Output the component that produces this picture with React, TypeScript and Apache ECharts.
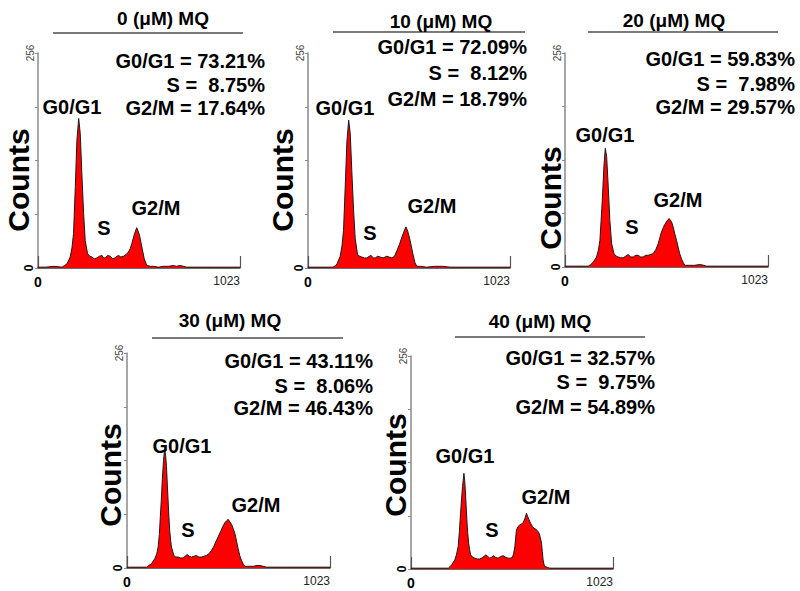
import React, { useEffect, useRef } from "react";
import * as echarts from "echarts";

// ---------- data ----------
const doses = ["0 (μM) MQ", "10 (μM) MQ", "20 (μM) MQ", "30 (μM) MQ", "40 (μM) MQ"];
const g0g1Pct = ["73.21%", "72.09%", "59.83%", "43.11%", "32.57%"];
const sPct = ["8.75%", "8.12%", "7.98%", "8.06%", "9.75%"];
const g2mPct = ["17.64%", "18.79%", "29.57%", "46.43%", "54.89%"];
const xTicks = [0, 1023];
const yTicks = [0, 256];

// [channel, counts]
const hist0 = [[0,1],[40,1],[80,2],[121,1],[135,3],[147,5],[163,13],[172,24],[180,41],[189,97],[197,152],[206,178],[214,160],[222,113],[231,65],[239,33],[251,17],[262,14],[273,13],[285,11],[298,12],[311,14],[324,15],[332,12],[340,12],[353,15],[366,14],[378,11],[391,12],[400,14],[408,15],[420,13],[433,14],[446,16],[458,19],[467,23],[475,29],[489,41],[500,48],[507,44],[514,39],[526,25],[538,11],[551,3],[570,2],[585,2],[610,1],[635,2],[660,2],[686,3],[700,2],[720,3],[753,1],[800,1],[900,1],[1023,1]];
const hist10 = [[0,1],[60,1],[100,1],[127,1],[140,3],[147,5],[163,14],[172,26],[180,45],[189,100],[197,150],[206,176],[214,160],[222,115],[231,68],[239,35],[251,16],[262,14],[273,13],[285,12],[298,12],[310,14],[320,15],[330,12],[340,12],[353,14],[366,13],[380,12],[399,14],[412,13],[425,12],[438,14],[451,21],[463,28],[476,37],[487,44],[496,49],[505,44],[517,33],[530,18],[542,6],[551,2],[570,2],[600,1],[640,2],[680,2],[720,1],[800,1],[1023,1]];
const hist20 = [[0,1],[80,1],[117,1],[130,3],[143,6],[159,12],[168,20],[176,32],[188,80],[196,120],[203,142],[210,132],[218,96],[226,56],[235,28],[247,16],[258,13],[268,12],[280,11],[293,11],[306,13],[319,15],[331,12],[344,12],[356,14],[369,14],[381,12],[394,12],[406,14],[419,14],[432,15],[444,16],[458,21],[470,28],[478,35],[486,42],[495,47],[503,51],[514,55],[525,58],[537,54],[545,48],[553,40],[562,32],[570,24],[578,16],[587,10],[596,5],[604,2],[629,2],[654,2],[679,3],[700,2],[713,1],[800,1],[1023,1]];
const hist30 = [[0,1],[60,1],[98,1],[110,3],[123,5],[140,11],[150,17],[157,25],[163,40],[168,61],[173,82],[178,105],[184,128],[190,142],[195,133],[199,121],[203,100],[207,81],[211,62],[215,45],[220,33],[224,25],[236,15],[246,13],[257,13],[270,12],[283,12],[293,14],[303,16],[314,14],[325,13],[338,14],[350,15],[362,13],[375,13],[388,14],[400,15],[413,17],[426,21],[438,26],[451,33],[461,38],[471,43],[482,49],[493,54],[501,56],[510,58],[518,55],[527,52],[535,47],[544,41],[552,32],[560,23],[568,15],[577,9],[585,5],[594,2],[615,2],[636,2],[655,3],[670,3],[686,2],[703,1],[800,1],[1023,1]];
const hist40 = [[0,1],[100,1],[150,1],[189,1],[198,3],[206,5],[214,8],[222,11],[230,17],[239,27],[245,45],[251,67],[256,84],[261,99],[268,115],[272,106],[275,95],[279,77],[283,59],[287,44],[292,31],[297,23],[302,17],[313,14],[324,13],[336,12],[349,12],[364,14],[379,17],[389,15],[399,13],[408,14],[416,16],[428,14],[441,13],[454,15],[467,16],[480,14],[492,13],[503,13],[514,14],[520,19],[526,27],[530,37],[534,47],[542,51],[551,53],[560,54],[568,56],[576,60],[585,67],[591,63],[598,59],[606,55],[615,51],[623,49],[632,48],[640,46],[649,43],[655,38],[661,31],[665,21],[669,11],[673,6],[677,3],[690,2],[703,1],[736,1],[800,1],[1023,1]];
const histograms = [hist0, hist10, hist20, hist30, hist40];

// ---------- layout (pixels) ----------
const layouts = [
  { grid: [38, 53, 202, 215], title: [163, 18], rule: [53, 243, 33], stats: [265, 61, 85, 108], g1: [72, 107], s: [104, 228], g2: [156, 208], counts: [18, 180] },
  { grid: [308, 53, 202, 215], title: [441, 21], rule: [333, 525, 32], stats: [527, 47, 73, 99], g1: [345, 108], s: [370, 233], g2: [432, 206], counts: [282, 180] },
  { grid: [565, 53, 203, 214], title: [674, 20], rule: [588, 778, 32], stats: [795, 59, 84, 107], g1: [605, 135], s: [632, 227], g2: [678, 200], counts: [550, 198] },
  { grid: [127, 353, 203, 215], title: [230, 320], rule: [152, 343, 338], stats: [373, 361, 386, 408], g1: [182, 446], s: [188, 530], g2: [256, 505], counts: [110, 475] },
  { grid: [411, 356, 202, 213], title: [540, 321], rule: [455, 645, 337], stats: [655, 358, 382, 407], g1: [465, 456], s: [492, 530], g2: [546, 497], counts: [395, 465] },
];

const FONT = '"Liberation Sans", Arial, Helvetica, sans-serif';

function txt(x: number, y: number, text: string, size: number, align = "center", rotation = 0) {
  return {
    type: "text",
    x,
    y,
    rotation,
    z: 10,
    style: {
      text,
      fill: "#000",
      font: `bold ${size}px ${FONT}`,
      align,
      verticalAlign: "middle",
    },
  };
}

export default function App() {
  const ref = useRef<HTMLDivElement>(null);
  useEffect(() => {
    if (!ref.current) return;
    const chart = echarts.init(ref.current, undefined, { renderer: "svg" });
    const grids: any[] = [];
    const xAxes: any[] = [];
    const yAxes: any[] = [];
    const series: any[] = [];
    const graphics: any[] = [];
    layouts.forEach((L, i) => {
      grids.push({ left: L.grid[0], top: L.grid[1], width: L.grid[2], height: L.grid[3], containLabel: false, outerBoundsMode: "none" });
      xAxes.push({
        type: "value",
        gridIndex: i,
        min: xTicks[0],
        max: xTicks[1],
        interval: xTicks[1] - xTicks[0],
        splitLine: { show: false },
        axisLine: { show: true, lineStyle: { color: "#3a3a3a", width: 1.5 } },
        axisTick: { show: true, inside: true, length: 12, lineStyle: { color: "#555", width: 1.2 } },
        axisLabel: {
          margin: 7,
          showMinLabel: true,
          showMaxLabel: true,
          alignMaxLabel: "right",
          formatter: (v: number) => (v === xTicks[0] ? "{z|" + v + "}" : "{n|" + v + "}"),
          rich: {
            z: { fontFamily: FONT, fontWeight: "bold", fontSize: 14, color: "#000" },
            n: { fontFamily: '"Liberation Sans Narrow", ' + FONT, fontSize: 12, color: "#222" },
          },
        },
      });
      yAxes.push({
        type: "value",
        gridIndex: i,
        min: 0,
        max: yTicks[1],
        interval: 64,
        splitLine: { show: false },
        axisLine: { show: true, lineStyle: { color: "#8a8a8a", width: 1.5 } },
        axisTick: { show: true, length: 3, lineStyle: { color: "#8a8a8a" } },
        axisLabel: {
          rotate: 90,
          margin: 3,
          showMinLabel: true,
          showMaxLabel: true,
          formatter: (v: number) => (v === yTicks[0] ? "{z|0}" : v === yTicks[1] ? "{t|" + v + "}" : ""),
          rich: {
            z: { fontFamily: FONT, fontWeight: "bold", fontSize: 12, color: "#000" },
            t: { fontFamily: FONT, fontSize: 10, color: "#444" },
          },
        },
      });
      series.push({
        type: "line",
        xAxisIndex: i,
        yAxisIndex: i,
        data: histograms[i],
        symbol: "none",
        smooth: false,
        lineStyle: { color: "#1a1a1a", width: 1 },
        areaStyle: { color: "#ff0000", opacity: 1 },
        z: 3,
      });
      graphics.push(txt(L.title[0], L.title[1], doses[i], 19));
      graphics.push({
        type: "line",
        shape: { x1: L.rule[0], y1: L.rule[2], x2: L.rule[1], y2: L.rule[2] },
        style: { stroke: "#7a7a7a", lineWidth: 2 },
      });
      graphics.push(txt(L.stats[0], L.stats[1], "G0/G1 = " + g0g1Pct[i], 20, "right"));
      graphics.push(txt(L.stats[0], L.stats[2], "S =  " + sPct[i], 20, "right"));
      graphics.push(txt(L.stats[0], L.stats[3], "G2/M = " + g2mPct[i], 20, "right"));
      graphics.push(txt(L.g1[0], L.g1[1], "G0/G1", 20));
      graphics.push(txt(L.s[0], L.s[1], "S", 20));
      graphics.push(txt(L.g2[0], L.g2[1], "G2/M", 20));
      graphics.push(txt(L.counts[0], L.counts[1], "Counts", 30, "center", Math.PI / 2));
    });
    chart.setOption({
      animation: false,
      backgroundColor: "#ffffff",
      textStyle: { fontFamily: FONT },
      grid: grids,
      xAxis: xAxes,
      yAxis: yAxes,
      series,
      graphic: { elements: graphics },
    });
    return () => chart.dispose();
  }, []);
  return (
    <div
      ref={ref}
      style={{ position: "absolute", left: 0, top: 0, width: 800, height: 591, background: "#fff" }}
    />
  );
}
